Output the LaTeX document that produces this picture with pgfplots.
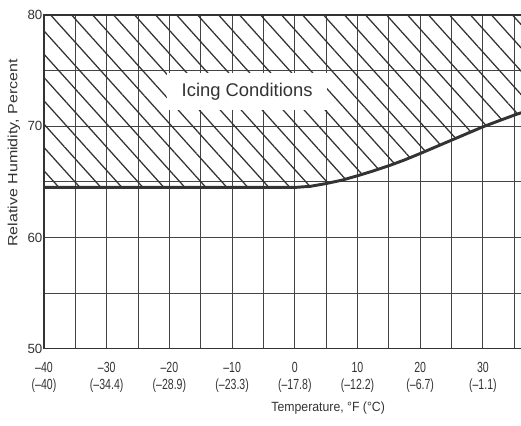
\documentclass[border=0pt]{standalone}
\usepackage{pgfplots}
\pgfplotsset{compat=1.18}
\usepackage{fontspec}
\setmainfont{Liberation Sans}
\newfontfamily\tickfont[FakeStretch=0.72]{Liberation Sans}
\newfontfamily\ylabfont[FakeStretch=1.2]{Liberation Sans}
\newfontfamily\xlabfont[FakeStretch=0.92]{Liberation Sans}
\usetikzlibrary{patterns.meta}

\definecolor{ink}{HTML}{333333}
\definecolor{gridink}{HTML}{444444}

\begin{document}
\begin{tikzpicture}
  \begin{axis}[
    name=ax,
    scale only axis,
    width=358.8pt,
    height=250.3pt,
    xmin=-40, xmax=36.3,
    ymin=50, ymax=80,
    xtick={-40,-30,...,30},
    minor xtick={-35,-25,...,35},
    xticklabels={{–40\\(–40)},{–30\\(–34.4)},{–20\\(–28.9)},{–10\\(–23.3)},
                 {0\\(–17.8)},{10\\(–12.2)},{20\\(–6.7)},{30\\(–1.1)}},
    ytick={50,60,70,80},
    minor ytick={55,65,75},
    grid=both,
    major grid style={gridink, line width=0.75pt},
    minor grid style={gridink, line width=0.75pt},
    major tick length=0pt,
    minor tick length=0pt,
    axis line style={ink, line width=0.9pt},
    /pgf/number format/assume math mode=true,
    xticklabel style={align=center, anchor=north, yshift=-6.6pt,
      font=\tickfont\fontsize{11}{12.75}\selectfont, text=ink},
    yticklabel style={inner xsep=1pt, font=\fontsize{10}{12}\selectfont, text=ink},
    xlabel={Temperature, °F (°C)},
    xlabel style={at={(rel axis cs:0.594,-0.1777)}, anchor=center,
      font=\xlabfont\fontsize{10}{12}\selectfont, text=ink},
    ylabel={Relative Humidity, Percent},
    ylabel style={at={(rel axis cs:-0.063,0.5865)}, anchor=center, rotate=0,
      font=\ylabfont\fontsize{10}{12}\selectfont, text=ink},
  ]
    % icing region, hatched
    \addplot[draw=none,
      pattern={Lines[angle=-48, distance=11.7pt, line width=0.95pt]},
      pattern color=ink]
      coordinates {
        (-40,64.5) (0,64.5) (2.5,64.6) (5,64.85) (7.5,65.15) (10,65.55)
        (12.5,65.98) (15,66.45) (17.5,66.97) (20,67.55) (22.5,68.15)
        (25,68.75) (27.5,69.35) (30,69.95) (32.5,70.48) (35,71.0)
        (36.3,71.25) (36.3,80) (-40,80)
      } -- cycle;

    \node[fill=white, minimum width=120pt, minimum height=27.7pt,
      inner sep=0pt, text=ink, font=\fontsize{13.8}{16}\selectfont]
      at (axis cs:-7.6,73.13) {Icing Conditions};

    % boundary curve
    \addplot[ink, line width=2.2pt, line join=round]
      coordinates {
        (-40,64.5) (0,64.5) (2.5,64.6) (5,64.85) (7.5,65.15) (10,65.55)
        (12.5,65.98) (15,66.45) (17.5,66.97) (20,67.55) (22.5,68.15)
        (25,68.75) (27.5,69.35) (30,69.95) (32.5,70.48) (35,71.0)
        (36.3,71.25)
      };
  \end{axis}
  \pgfresetboundingbox
  \path[use as bounding box] (ax.south west) ++(-33pt,-57.2pt) rectangle ++(390.75pt,318.75pt);
\end{tikzpicture}
\end{document}
